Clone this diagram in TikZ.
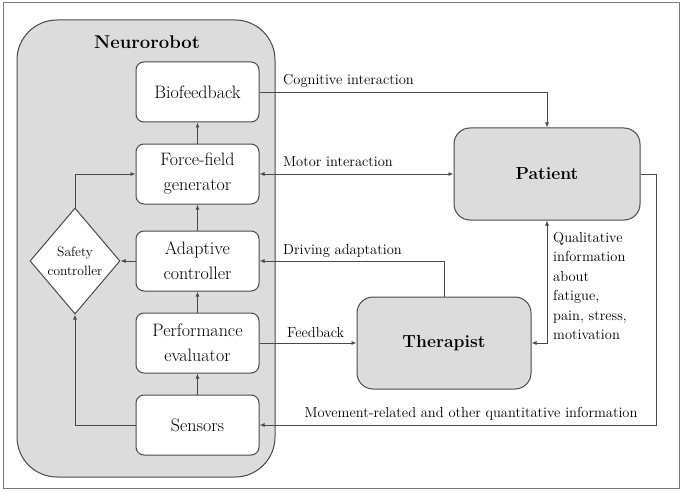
\documentclass[tikz,border=0pt]{standalone}
\usepackage{tikz}
\usepackage{xcolor}
\usetikzlibrary{arrows.meta, shapes.geometric, calc}

\definecolor{robotgray}{HTML}{DCDCDC}
\definecolor{linegray}{HTML}{4A4A4A}
\definecolor{framegray}{HTML}{7A7A7A}

\begin{document}
\begin{tikzpicture}[x=1pt, y=-1pt,
    container/.style={draw=linegray, line width=1pt, fill=robotgray, rounded corners=40pt, minimum width=258pt, minimum height=457pt},
    block/.style={draw=linegray, line width=1pt, fill=white, rounded corners=8pt, minimum width=123pt, minimum height=60pt, align=center, inner sep=0pt, font=\fontsize{18}{25}\selectfont},
    actor/.style={draw=linegray, line width=1pt, fill=robotgray, rounded corners=16pt, align=center, font=\bfseries\fontsize{17.5}{21}\selectfont},
    safety/.style={diamond, draw=linegray, line width=1pt, fill=white, minimum width=90pt, minimum height=106pt, inner sep=0pt},
    link/.style={draw=linegray, line width=0.9pt, -{Latex[length=5pt, width=4pt]}},
    twoway/.style={link, {Latex[length=5pt, width=4pt]}-{Latex[length=5pt, width=4pt]}},
    lbl/.style={inner sep=0pt, font=\fontsize{14.5}{19.5}\selectfont}
]
      \useasboundingbox (0,0) rectangle (685,492);
      \draw[framegray, line width=1pt] (3,3) rectangle (679,488);

      \node[container] (robot) at (146,248.5) {};
      \node[font=\bfseries\fontsize{18.5}{22}\selectfont] (robotname) at (147,42) {Neurorobot};

      \node[block] (bio) at (197.5,92) {Biofeedback};
      \node[block] (force) at (197.5,174) {Force-field\\generator};
      \node[block] (adapt) at (197.5,261) {Adaptive\\controller};
      \node[block] (perf) at (197.5,343) {Performance\\evaluator};
      \node[block] (sens) at (197.5,425) {Sensors};

      \node[safety] (safety) at (75,261) {};
      \node[lbl, align=center, font=\fontsize{13.5}{19}\selectfont] (safetytext) at (safety) {Safety\\controller};

      \node[actor, minimum width=186pt, minimum height=92pt] (patient) at (547,174) {Patient};
      \node[actor, minimum width=174pt, minimum height=92pt] (therapist) at (444,343) {Therapist};

      \draw[link] (force) -- (bio);
      \draw[link] (adapt) -- (force);
      \draw[link] (perf) -- (adapt);
      \draw[link] (sens) -- (perf);
      \draw[link] (adapt.west) -- (safety.east);
      \draw[link] (safety.north) |- (force.west);
      \draw[link] (sens.west) -| (safety.south);

      \draw[link] (bio.east) -| (patient.north);
      \draw[twoway] (force.east) -- (patient.west);
      \draw[link] (therapist.north) |- (adapt.east);
      \draw[link] (perf.east) -- (therapist.west);
      \draw[twoway] (therapist.east) -| (patient.south);
      \draw[link] (patient.east) -- ++(16,0) |- (sens.east);

      \node[lbl, anchor=base west] (cogtext) at (283,85) {Cognitive interaction};
      \node[lbl, anchor=base west] (motortext) at (283,166) {Motor interaction};
      \node[lbl, anchor=base west] (drivetext) at (283,254) {Driving adaptation};
      \node[lbl, anchor=base west] (feedtext) at (287,337) {Feedback};
      \node[lbl, anchor=north west, align=left] (qualtext) at (553,232) {Qualitative\\information\\about\\fatigue,\\pain, stress,\\motivation};
      \node[lbl, anchor=base] (movetext) at (471,417) {Movement-related and other quantitative information};
\end{tikzpicture}
\end{document}
